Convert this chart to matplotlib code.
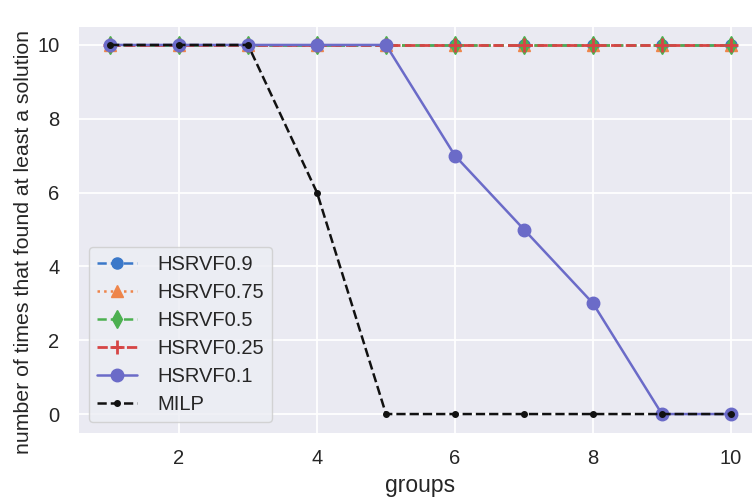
import matplotlib
matplotlib.use("Agg")
import matplotlib.pyplot as plt
import seaborn as sns

sns.set_theme(style="darkgrid")
plt.rcParams['font.family'] = ['Liberation Sans', 'DejaVu Sans']

groups = [1, 2, 3, 4, 5, 6, 7, 8, 9, 10]
hsrvf09 = [10, 10, 10, 10, 10, 10, 10, 10, 10, 10]
hsrvf075 = [10, 10, 10, 10, 10, 10, 10, 10, 10, 10]
hsrvf05 = [10, 10, 10, 10, 10, 10, 10, 10, 10, 10]
hsrvf025 = [10, 10, 10, 10, 10, 10, 10, 10, 10, 10]
hsrvf01 = [10, 10, 10, 10, 10, 7, 5, 3, 0, 0]
milp = [10, 10, 10, 6, 0, 0, 0, 0, 0, 0]

fig = plt.figure(figsize=(7.52, 4.99), dpi=100)
ax = fig.add_axes([79/752, (499-432.5)/499, (762-79)/752, (432.5-26.5)/499])
ax.set_facecolor('#eaeaf2')

ax.plot(groups, hsrvf09, linestyle='--', marker='o', color='#3a78c9', lw=1.8, ms=8, label='HSRVF0.9')
ax.plot(groups, hsrvf075, linestyle=':', marker='^', color='#ee854a', lw=1.8, ms=8, label='HSRVF0.75')
ax.plot(groups, hsrvf05, linestyle='--', marker='d', color='#4cb050', lw=1.8, ms=9, label='HSRVF0.5')
ax.plot(groups, hsrvf025, linestyle='--', marker='+', color='#d64545', lw=2.0, ms=10, mew=2, label='HSRVF0.25')
ax.plot(groups, hsrvf01, linestyle='-', marker='o', color='#6b6bc8', lw=1.8, ms=9, label='HSRVF0.1')
ax.plot(groups, milp, linestyle='--', marker='.', color='#111111', lw=1.8, ms=8, label='MILP')

ax.set_xlim(0.55, 10.45)
ax.set_ylim(-0.5, 10.5)
ax.set_xticks([2, 4, 6, 8, 10])
ax.set_yticks([0, 2, 4, 6, 8, 10])
ax.tick_params(axis='x', labelsize=14.5, pad=6)
ax.tick_params(axis='y', labelsize=14.5, pad=8)
ax.set_xlabel('groups', fontsize=16.5, labelpad=4)
ax.set_ylabel('number of times that found at least a solution', fontsize=15.3)
ax.yaxis.set_label_coords(-0.067, 0.468)
for s in ax.spines.values():
    s.set_visible(False)
ax.grid(True, color='white', lw=1.3)

leg = ax.legend(loc='lower left', fontsize=14.5, frameon=True, handlelength=2.0,
                borderaxespad=0.5, labelspacing=0.45, handletextpad=1.0)
leg.get_frame().set_facecolor('#eceef4')
leg.get_frame().set_edgecolor('#cccccc')

fig.savefig('out.png', dpi=100)
